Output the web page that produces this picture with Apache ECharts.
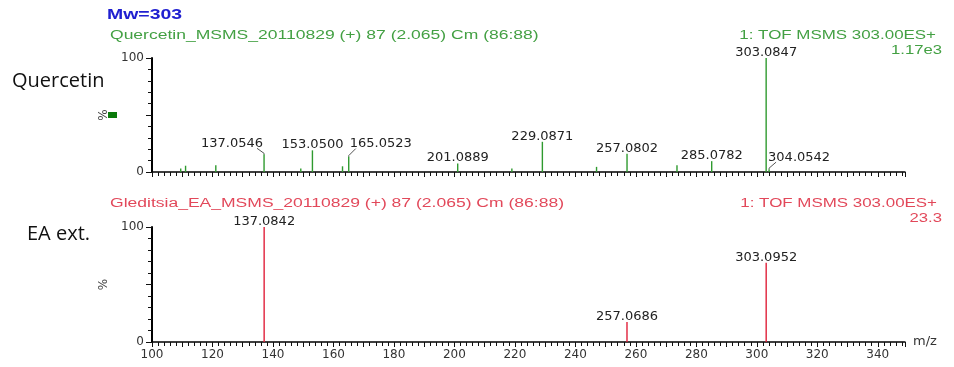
<!DOCTYPE html>
<html>
<head>
<meta charset="utf-8">
<script src="https://cdn.jsdelivr.net/npm/echarts@6/dist/echarts.min.js"></script>
<style>
  html, body { margin: 0; padding: 0; background: #ffffff; }
  #chart { width: 954px; height: 367px; }
</style>
</head>
<body>
<div id="chart"></div>
<script>
// m/z axis range and labelled tick step
const mzMin = 100;
const mzMax = 349;
const mzLabelStep = 20;

// Quercetin standard, MS/MS spectrum (relative intensity, %)
const quercetinMz  = [109.5, 111.1, 121.1, 137.0546, 149.2, 153.0500, 163.0, 165.0523, 201.0889,
                      219.0, 229.0871, 247.0, 257.0802, 273.6, 285.0782, 303.0847, 304.0542];
const quercetinPct = [3, 5.5, 6, 15.5, 3, 19, 5, 13.5, 7.5,
                      3, 26.5, 4.5, 16, 6, 9.5, 100, 2.5];
const quercetinLabelled = [137.0546, 153.0500, 165.0523, 201.0889, 229.0871,
                           257.0802, 285.0782, 303.0847, 304.0542];

// Gleditsia EA extract, MS/MS spectrum (relative intensity, %)
const extractMz  = [137.0842, 257.0686, 303.0952];
const extractPct = [100, 17.5, 69];
const extractLabelled = [137.0842, 257.0686, 303.0952];

// Labels pushed aside with a short leader line: [dx, dy] in px
const leaderOffsets = {
  '137.0546': [-32, -6],
  '165.0523': [32, -8],
  '304.0542': [30, -7]
};

const GREEN = '#2f9a2f';
const GREEN_TEXT = '#43a043';
const RED = '#e0203a';
const RED_TEXT = '#e2485a';
const SANS = '"Liberation Sans", Arial, sans-serif';
const AXIS_FONT = '"DejaVu Sans", "Liberation Sans", sans-serif';

function peakSeries(mz, pct, labelled, color, axisIndex) {
  return {
    type: 'custom',
    xAxisIndex: axisIndex,
    yAxisIndex: axisIndex,
    coordinateSystem: 'cartesian2d',
    data: mz.map((m, i) => [m, pct[i]]),
    renderItem(params, api) {
      const m = api.value(0);
      const v = api.value(1);
      const base = api.coord([m, 0]);
      const top = api.coord([m, v]);
      const children = [{
        type: 'line',
        shape: { x1: base[0], y1: base[1], x2: top[0], y2: top[1] },
        style: { stroke: color, lineWidth: 1.4 }
      }];
      if (labelled.indexOf(m) >= 0) {
        const key = m.toFixed(4);
        const off = leaderOffsets[key];
        let lx = top[0], ly = top[1] - 1;
        if (off) {
          const sx = top[0] + Math.sign(off[0]) * 7;
          const sy = top[1] + off[1];
          children.push({
            type: 'polyline',
            shape: { points: [[top[0], top[1]], [top[0], top[1] - 1], [sx, sy]] },
            style: { stroke: '#555', lineWidth: 1, fill: 'none' }
          });
          lx = top[0] + off[0];
          ly = sy;
        }
        children.push({
          type: 'text',
          x: lx, y: ly + 2,
          style: {
            text: key, x: 0, y: 0,
            align: 'center', verticalAlign: 'bottom',
            textAlign: 'center', textVerticalAlign: 'bottom',
            font: '13px ' + AXIS_FONT, fill: '#222'
          }
        });
      }
      return { type: 'group', children };
    }
  };
}

function xAxisOf(gridIndex, showLabels) {
  return {
    type: 'value', gridIndex,
    min: mzMin, max: mzMax, interval: 10,
    name: showLabels ? 'm/z' : '',
    nameLocation: 'end', nameGap: 8,
    nameTextStyle: { fontFamily: AXIS_FONT, fontSize: 13, color: '#333', verticalAlign: 'middle' },
    axisLine: { show: true, lineStyle: { color: '#000', width: 1.5 } },
    axisTick: { show: true, inside: false, length: 5, lineStyle: { color: '#111', width: 1 } },
    minorTick: { show: true, splitNumber: 5, length: 4, lineStyle: { color: '#111', width: 1 } },
    splitLine: { show: false },
    axisLabel: {
      show: showLabels, margin: 7,
      fontFamily: AXIS_FONT, fontSize: 12, color: '#333',
      formatter: v => (v % mzLabelStep === 0 && v <= 340) ? String(v) : ''
    }
  };
}

function yAxisOf(gridIndex) {
  return {
    type: 'value', gridIndex,
    min: 0, max: 100, interval: 50,
    name: '%', nameLocation: 'middle', nameGap: 15, nameRotate: 90,
    nameTextStyle: { fontFamily: AXIS_FONT, fontSize: 12, color: '#444' },
    axisLine: { show: true, lineStyle: { color: '#000', width: 2 } },
    axisTick: { show: true, inside: false, length: 6, lineStyle: { color: '#111', width: 1 } },
    minorTick: { show: true, splitNumber: 5, length: 4, lineStyle: { color: '#111', width: 1 } },
    splitLine: { show: false },
    axisLabel: {
      margin: 8, fontFamily: AXIS_FONT, fontSize: 12, color: '#333',
      formatter: v => v === 50 ? '' : String(v)
    }
  };
}

// Header and side captions, drawn on top of the axes and peaks
function headerText(text, x, y, color, align, font, scaleX) {
  return {
    type: 'text', x, y, scaleX, silent: true, z: 100,
    style: {
      text, x: 0, y: 0, fill: color, font,
      align, verticalAlign: 'middle',
      textAlign: align, textVerticalAlign: 'middle'
    }
  };
}

const chart = echarts.init(document.getElementById('chart'), null, { renderer: 'canvas' });

chart.setOption({
  animation: false,
  backgroundColor: '#ffffff',
  grid: [
    { left: 152, top: 58, width: 753, height: 114 },
    { left: 152, top: 227, width: 753, height: 115 }
  ],
  xAxis: [xAxisOf(0, false), xAxisOf(1, true)],
  yAxis: [yAxisOf(0), yAxisOf(1)],
  series: [
    peakSeries(quercetinMz, quercetinPct, quercetinLabelled, GREEN, 0),
    peakSeries(extractMz, extractPct, extractLabelled, RED, 1)
  ],
  graphic: [
    headerText('Mw=303', 107, 15.5, '#2020d0', 'left', 'bold 14px ' + SANS, 1.39),
    headerText('Quercetin_MSMS_20110829 (+) 87 (2.065) Cm (86:88)', 110, 35.5, GREEN_TEXT, 'left', '12px ' + SANS, 1.46),
    headerText('1: TOF MSMS 303.00ES+', 936, 35.5, GREEN_TEXT, 'right', '12px ' + SANS, 1.41),
    headerText('1.17e3', 942, 51, GREEN_TEXT, 'right', '12px ' + SANS, 1.39),
    headerText('Gleditsia_EA_MSMS_20110829 (+) 87 (2.065) Cm (86:88)', 110, 203.5, RED_TEXT, 'left', '12px ' + SANS, 1.46),
    headerText('1: TOF MSMS 303.00ES+', 937, 204, RED_TEXT, 'right', '12px ' + SANS, 1.41),
    headerText('23.3', 942, 219, RED_TEXT, 'right', '12px ' + SANS, 1.39),
    headerText('Quercetin', 12, 81, '#111', 'left', '20px "Open Sans", "Noto Sans", sans-serif', 1),
    headerText('EA ext.', 27, 234, '#111', 'left', '20px "Open Sans", "Noto Sans", sans-serif', 1),
    {
      type: 'rect', silent: true, z: 100,
      shape: { x: 108, y: 112, width: 9, height: 6 },
      style: { fill: '#0a7a0a' }
    }
  ]
});
</script>
</body>
</html>
